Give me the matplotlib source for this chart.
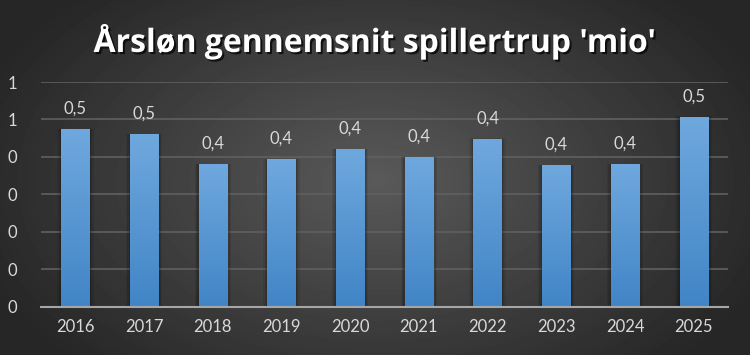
import numpy as np
import matplotlib
matplotlib.use('Agg')
import matplotlib.pyplot as plt
import matplotlib.patheffects as pe
from matplotlib.colors import LinearSegmentedColormap

# data
years = ['2016', '2017', '2018', '2019', '2020', '2021', '2022', '2023', '2024', '2025']
values = [0.474, 0.461, 0.381, 0.394, 0.421, 0.400, 0.448, 0.378, 0.381, 0.507]
yticks = [0.0, 0.1, 0.2, 0.3, 0.4, 0.5, 0.6]
ytick_labels = ['0', '0', '0', '0', '0', '1', '1']
title = "Årsløn gennemsnit spillertrup 'mio'"

plt.rcParams['font.family'] = ['Lato', 'DejaVu Sans']

fig = plt.figure(figsize=(7.5, 3.55), dpi=100)

# radial background
bg = fig.add_axes([0, 0, 1, 1], zorder=0)
yy, xx = np.mgrid[0:355, 0:750]
r = np.sqrt(((xx - 375) / 420.0) ** 2 + ((yy - 180) / 260.0) ** 2)
r = np.clip(r, 0, 1)
shade = 0.35 - 0.20 * r
bg.imshow(shade, cmap='gray', vmin=0, vmax=1, aspect='auto', interpolation='bilinear')
bg.axis('off')

ax = fig.add_axes([0.0547, 0.136, 0.916, 0.633], zorder=1)
ax.patch.set_alpha(0)

x = np.arange(len(years))
bars = ax.bar(x, values, width=0.41, color='none', zorder=3)

cmap = LinearSegmentedColormap.from_list('bar', ['#4185c6', '#6fa8de'])
grad = np.linspace(0, 1, 256).reshape(-1, 1)
for b in bars:
    bx, bw, bh = b.get_x(), b.get_width(), b.get_height()
    # soft shadow
    for k, a in zip([0.06, 0.04, 0.02], [0.08, 0.10, 0.12]):
        ax.add_patch(plt.Rectangle((bx - k, 0), bw + 2 * k, bh + k * 0.02,
                                   color='black', alpha=a, lw=0, zorder=2))
    im = ax.imshow(grad, cmap=cmap, origin='lower', aspect='auto',
                   extent=[bx, bx + bw, 0, bh], zorder=3)
    im.set_clip_path(b)

for xi, v in zip(x, values):
    ax.annotate(('%.1f' % v).replace('.', ','), (xi, v), xytext=(0, 9),
                textcoords='offset points', ha='center', va='bottom',
                color='#d9d9d9', fontsize=12)

ax.set_xlim(-0.5, len(years) - 0.5)
ax.set_ylim(0, 0.6)
ax.set_yticks(yticks)
ax.set_yticklabels(ytick_labels)
ax.set_xticks(x)
ax.set_xticklabels(years)
ax.tick_params(axis='both', length=0, colors='#d9d9d9', labelsize=12)
ax.tick_params(axis='y', pad=17)
ax.tick_params(axis='x', pad=9)
ax.grid(axis='y', color='#606060', lw=1.2, zorder=0)
for s in ['top', 'right', 'left']:
    ax.spines[s].set_visible(False)
ax.spines['bottom'].set_color('#a6a6a6')
ax.spines['bottom'].set_linewidth(1.5)
ax.spines['bottom'].set_zorder(4)

fig.text(0.5, 0.882, title, ha='center', va='center', color='white',
         fontsize=23, fontweight='bold', family=['Open Sans', 'DejaVu Sans'],
         path_effects=[pe.withSimplePatchShadow(offset=(1.5, -1.5),
                                                shadow_rgbFace='black', alpha=0.7)])

fig.savefig('out.png', dpi=100)
